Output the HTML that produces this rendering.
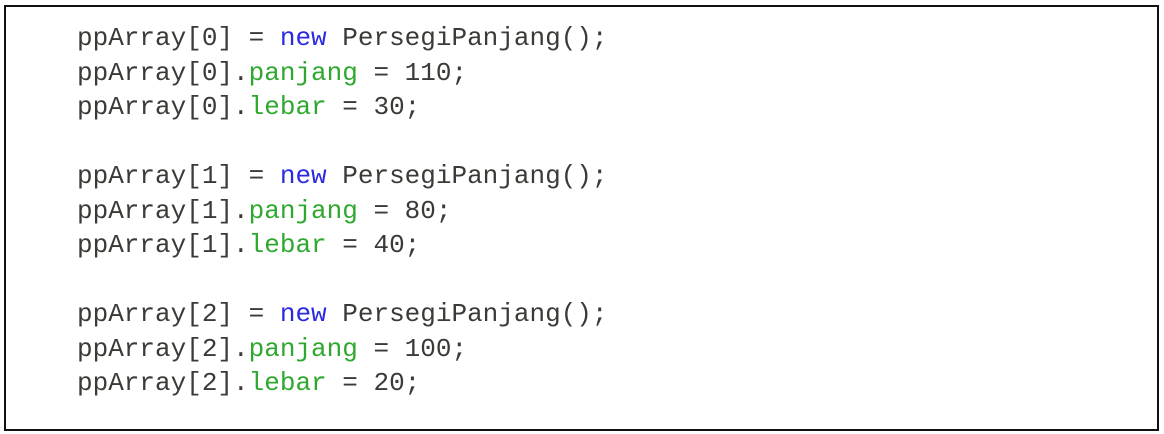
<!DOCTYPE html>
<html><head><meta charset="utf-8"><style>
html,body{margin:0;padding:0;background:#fff;width:1164px;height:434px;overflow:hidden}
.box{position:absolute;left:4px;top:5px;width:1151px;height:422px;border:2px solid #111}
pre{position:absolute;left:77px;top:21px;margin:0;font-family:"Liberation Mono",monospace;font-size:26px;line-height:34.5px;color:#3c3a36}
.k{color:#2a2ae0}.f{color:#2fa82f}
</style></head><body>
<div class="box"></div>
<pre>ppArray[0] = <span class="k">new</span> PersegiPanjang();
ppArray[0].<span class="f">panjang</span> = 110;
ppArray[0].<span class="f">lebar</span> = 30;

ppArray[1] = <span class="k">new</span> PersegiPanjang();
ppArray[1].<span class="f">panjang</span> = 80;
ppArray[1].<span class="f">lebar</span> = 40;

ppArray[2] = <span class="k">new</span> PersegiPanjang();
ppArray[2].<span class="f">panjang</span> = 100;
ppArray[2].<span class="f">lebar</span> = 20;</pre>
</body></html>
